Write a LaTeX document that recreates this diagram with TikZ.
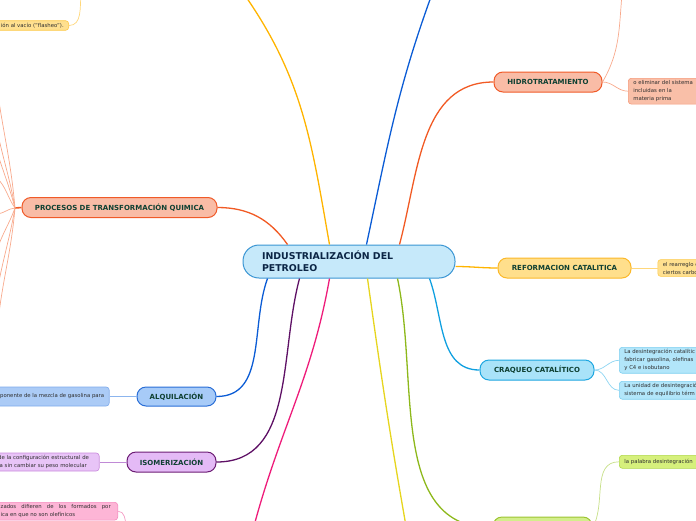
\documentclass[tikz,border=0pt]{standalone}
\usepackage{fontspec}
\setmainfont{DejaVu Sans}
\usepackage{tikz}
\usetikzlibrary{positioning, calc}
\usepackage{xcolor}
\definecolor{centerfill}{HTML}{C6E9FA}
\definecolor{centerdraw}{HTML}{3A95D3}
\definecolor{centertext}{HTML}{0B2545}
\definecolor{branchtext}{HTML}{0F4032}
\definecolor{leaftext}{HTML}{2E2E2E}
\definecolor{salmonfill}{HTML}{F9BCA6}
\definecolor{salmondraw}{HTML}{F05A28}
\definecolor{salmonlink}{HTML}{F15A24}
\definecolor{salmonleaf}{HTML}{F9BFA8}
\definecolor{salmonline}{HTML}{F59A7A}
\definecolor{salmontwig}{HTML}{F8A98C}
\definecolor{yellowfill}{HTML}{FFDF8C}
\definecolor{yellowdraw}{HTML}{FBB829}
\definecolor{yellowlink}{HTML}{FFB400}
\definecolor{yellowleaf}{HTML}{FFE08F}
\definecolor{yellowline}{HTML}{FCC94A}
\definecolor{yellowtwig}{HTML}{FFD77A}
\definecolor{cyanfill}{HTML}{A9E3F9}
\definecolor{cyandraw}{HTML}{1DA6E0}
\definecolor{cyanlink}{HTML}{10A0E0}
\definecolor{cyanleaf}{HTML}{B2E6FA}
\definecolor{cyanline}{HTML}{7FD0F0}
\definecolor{cyantwig}{HTML}{8FD5F2}
\definecolor{bluefill}{HTML}{A7CBF8}
\definecolor{bluedraw}{HTML}{2A6ED6}
\definecolor{bluelink}{HTML}{0B5CD5}
\definecolor{blueleaf}{HTML}{ABCBF6}
\definecolor{blueline}{HTML}{7EAAEB}
\definecolor{bluetwig}{HTML}{8CB5EE}
\definecolor{purplefill}{HTML}{E4BAF6}
\definecolor{purpledraw}{HTML}{6C1C74}
\definecolor{purplelink}{HTML}{5E1065}
\definecolor{purpleleaf}{HTML}{E8C4F7}
\definecolor{purpleline}{HTML}{C98BDC}
\definecolor{purpletwig}{HTML}{C08AD6}
\definecolor{pinklink}{HTML}{EE1C7A}
\definecolor{pinkleaf}{HTML}{FDB5D6}
\definecolor{pinkline}{HTML}{F58BBE}
\definecolor{pinktwig}{HTML}{F49CC4}
\definecolor{lemonlink}{HTML}{E6D51E}
\definecolor{greenfill}{HTML}{D3EE8B}
\definecolor{greendraw}{HTML}{9CC432}
\definecolor{greenlink}{HTML}{8DB81B}
\definecolor{greenleaf}{HTML}{D6F07C}
\definecolor{greenline}{HTML}{B0D84A}
\definecolor{greentwig}{HTML}{C6DF86}
\tikzset{
  central/.style={
    rectangle, rounded corners=16pt, draw=centerdraw, line width=1pt,
    fill=centerfill, minimum width=212pt, minimum height=33pt,
    text width=174pt, inner xsep=18.5pt, align=left,
    font=\fontsize{9.4}{12}\selectfont\bfseries, text=centertext
  },
  branch/.style={
    rectangle, rounded corners=9pt, line width=1pt,
    minimum height=20pt, inner xsep=2pt, align=center,
    font=\fontsize{7}{8}\selectfont\bfseries, text=branchtext
  },
  leaf/.style={
    rectangle, rounded corners=3pt, line width=0.6pt,
    inner xsep=5pt, inner ysep=2.3pt, align=left,
    font=\fontsize{5.35}{8}\selectfont, text=leaftext
  },
  link/.style={line width=1.3pt, draw=#1},
  twig/.style={line width=0.7pt, draw=#1}
}

\begin{document}
\begin{tikzpicture}[x=1pt, y=1pt]
  \useasboundingbox (0,0) rectangle (696,-520);
  \clip (0,0) rectangle (696,-520);

  % main topic
  \node[central] (petroleo) at (349,-261.5) {INDUSTRIALIZACIÓN DEL\\PETROLEO};

  % branches
  \node[branch, fill=salmonfill, draw=salmondraw, minimum width=195pt] (procesos) at (119.5,-207.5)
    {PROCESOS DE TRANSFORMACIÓN QUIMICA};
  \node[branch, fill=salmonfill, draw=salmondraw, minimum width=108pt] (hidro) at (548,-82) {HIDROTRATAMIENTO};
  \node[branch, fill=yellowfill, draw=yellowdraw, minimum width=133pt] (reforma) at (564.5,-268) {REFORMACION CATALITICA};
  \node[branch, fill=cyanfill, draw=cyandraw, minimum width=114pt] (craqueo) at (537,-370) {CRAQUEO CATALÍTICO};
  \node[branch, fill=bluefill, draw=bluedraw, minimum width=79pt, minimum height=19pt] (alquila) at (176.5,-396.5) {ALQUILACIÓN};
  \node[branch, fill=purplefill, draw=purpledraw, minimum width=89pt] (isomera) at (171.5,-462) {ISOMERIZACIÓN};
  \node[branch, fill=greenfill, draw=greendraw, minimum width=99pt, minimum height=22pt] (verde) at (542.5,-528) {};

  % leaves
  \node[leaf, fill=yellowleaf, draw=yellowline, anchor=east] (flasheo) at (69,-25.5)
    {ión al vacío ("flasheo").};
  \node[leaf, fill=salmonleaf, draw=salmonline, anchor=north west, text width=80pt] (hleaf) at (628,-78)
    {o eliminar del sistema\\incluidas en la\\materia prima};
  \node[leaf, fill=yellowleaf, draw=yellowline, right=26pt of reforma, text width=50pt] (rleaf)
    {el rearreglo d\\ciertos carbo};
  \node[leaf, fill=cyanleaf, draw=cyanline, anchor=north west, text width=90pt] (cleafa) at (619,-347)
    {La desintegración catalític\\fabricar gasolina, olefinas\\y C4 e isobutano};
  \node[leaf, fill=cyanleaf, draw=cyanline, anchor=north west, text width=90pt] (cleafb) at (619,-381)
    {La unidad de desintegració\\sistema de equilibrio térm};
  \node[leaf, fill=greenleaf, draw=greenline, anchor=north west, text width=90pt, minimum height=13pt] (gleaf) at (619,-455)
    {la palabra desintegración};
  \node[leaf, fill=blueleaf, draw=blueline, left=27pt of alquila, minimum height=19pt] (aleaf)
    {ponente de la mezcla de gasolina para};
  \node[leaf, fill=purpleleaf, draw=purpleline, left=27pt of isomera, text width=96pt] (ileaf)
    {de la configuración estructural de\\la sin cambiar su peso molecular};
  \node[leaf, fill=pinkleaf, draw=pinkline, anchor=north east, text width=110pt, inner xsep=7pt, align=justify] (pleaf) at (118,-502)
    {zados difieren de los formados por\linebreak ica en que no son olefínicos};

  % free ends outside the frame
  \coordinate (topyellow) at (244,6);
  \coordinate (topblue) at (432,6);
  \coordinate (botpink) at (254,-526);
  \coordinate (botlemon) at (406,-526);
  \coordinate (hidroup) at (622,6);
  \coordinate (flasheoup) at (81,6);
  \coordinate (pinkdown) at (126,-526);
  \coordinate (pstub) at (15,-208);

  % main connectors
  \draw[link=salmonlink] ([xshift=45pt]petroleo.north west) to[out=125,in=0] (procesos.east);
  \draw[link=yellowlink] ([xshift=87pt]petroleo.north west) to[out=100,in=-55] (topyellow);
  \draw[link=bluelink] ([xshift=124pt]petroleo.north west) to[out=78,in=-110] (topblue);
  \draw[link=salmonlink] ([xshift=157pt]petroleo.north west) to[out=75,in=180] (hidro.west);
  \draw[link=yellowlink] ([yshift=-5pt]petroleo.east) to[out=0,in=180] (reforma.west);
  \draw[link=cyanlink] ([xshift=187pt]petroleo.south west) to[out=-70,in=180] (craqueo.west);
  \draw[link=greenlink] ([xshift=155pt]petroleo.south west) to[out=-78,in=180] (verde.west);
  \draw[link=lemonlink] ([xshift=125pt]petroleo.south west) to[out=-82,in=100] (botlemon);
  \draw[link=pinklink] ([xshift=87pt]petroleo.south west) to[out=-100,in=75] (botpink);
  \draw[link=purplelink] ([xshift=57pt]petroleo.south west) to[out=-105,in=0] (isomera.east);
  \draw[link=bluelink] ([xshift=25pt]petroleo.south west) to[out=-110,in=0] (alquila.east);

  % leaf connectors
  \draw[twig=yellowtwig] (flasheo.east) to[out=0,in=-95] (flasheoup);
  \draw[twig=salmontwig] (hidro.east) to[out=60,in=-95] (hidroup);
  \draw[twig=salmontwig] (hidro.east) to[out=0,in=180] (hleaf.west);
  \draw[twig=yellowtwig] (reforma.east) -- (rleaf.west);
  \draw[twig=cyantwig] (craqueo.east) to[out=0,in=180] (cleafa.west);
  \draw[twig=cyantwig] (craqueo.east) to[out=0,in=180] (cleafb.west);
  \draw[twig=greentwig] (verde.east) to[out=60,in=180] (gleaf.west);
  \draw[twig=bluetwig] (alquila.west) -- (aleaf.east);
  \draw[twig=purpletwig] (isomera.west) -- (ileaf.east);
  \draw[twig=pinktwig] (pleaf.east) to[out=0,in=95] (pinkdown);

  \draw[link=salmonlink, line width=1.6pt] (procesos.west) -- (pstub);
  \foreach \yy/\aout/\ain in {88/95/-82, 130/100/-78, 152/105/-72, 178/125/-45,
                              214/185/5, 250/-110/72, 292/-100/80, 332/-95/85} {
    \coordinate (pl\yy) at (-3,-\yy);
    \draw[twig=salmontwig] (pstub) to[out=\aout,in=\ain] (pl\yy);
  }
\end{tikzpicture}
\end{document}
